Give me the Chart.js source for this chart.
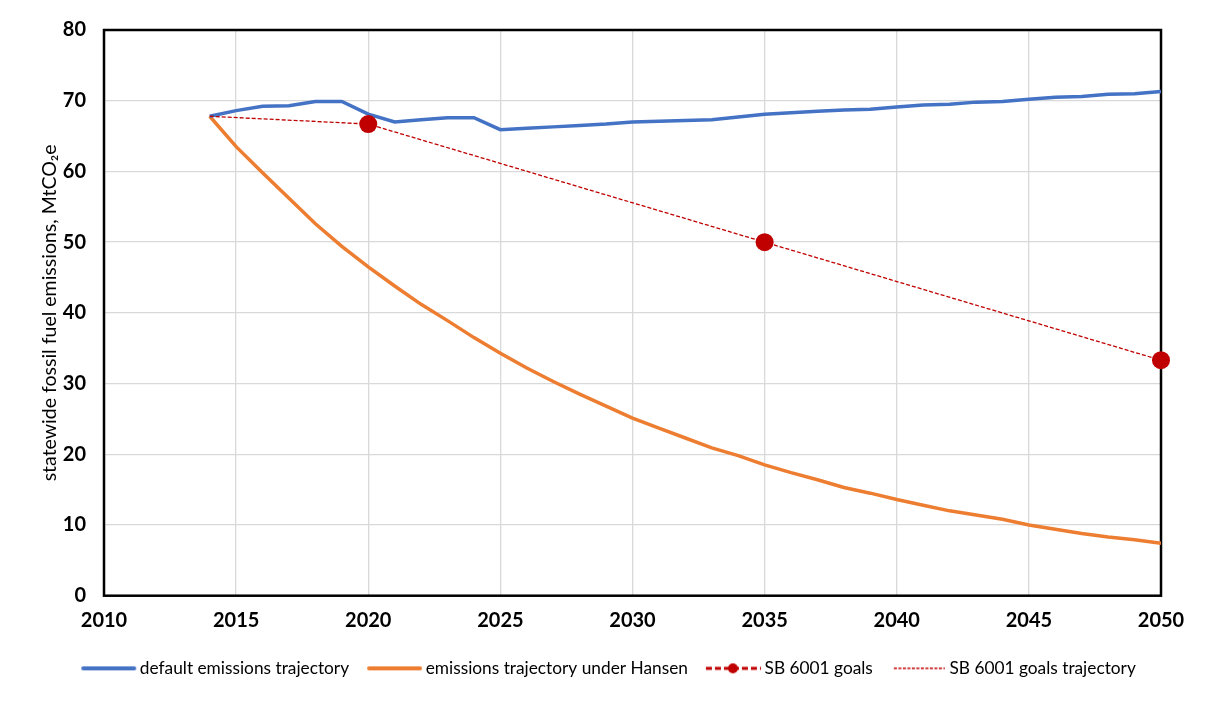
<!DOCTYPE html>
<html><head><meta charset="utf-8">
<script src="https://cdn.jsdelivr.net/npm/chart.js@4/dist/chart.umd.min.js"></script>
<style>html,body{margin:0;padding:0;background:#fff}</style>
</head><body>
<canvas id="c" width="1207" height="702" style="display:block;width:1207px;height:702px"></canvas>
<script>
const years = [2014,2015,2016,2017,2018,2019,2020,2021,2022,2023,2024,2025,2026,2027,2028,2029,2030,2031,2032,2033,2034,2035,2036,2037,2038,2039,2040,2041,2042,2043,2044,2045,2046,2047,2048,2049,2050];
const defaultEmissions = [67.8,68.6,69.2,69.3,69.9,69.9,68.1,67.0,67.3,67.6,67.6,65.9,66.1,66.3,66.5,66.7,67.0,67.1,67.2,67.3,67.7,68.1,68.3,68.5,68.7,68.8,69.1,69.4,69.5,69.8,69.9,70.2,70.5,70.6,70.9,71.0,71.3];
const hansenEmissions = [67.8,63.5,59.8,56.2,52.6,49.4,46.5,43.8,41.2,38.9,36.5,34.3,32.2,30.3,28.5,26.8,25.1,23.7,22.3,20.9,19.8,18.5,17.4,16.4,15.3,14.5,13.6,12.8,12.0,11.4,10.8,10.0,9.4,8.8,8.3,7.9,7.4];
const goalYears = [2020,2035,2050];
const goalValues = [66.7,50.0,33.3];
const trajectoryYears = [2014,2020,2035,2050];
const trajectoryValues = [67.8,66.7,50.0,33.3];
const xTicks = [2010,2015,2020,2025,2030,2035,2040,2045,2050];
const seriesNames = ['default emissions trajectory','emissions trajectory under Hansen','SB 6001 goals','SB 6001 goals trajectory'];

const BLUE = '#4472C4', ORANGE = '#ED7D31', RED = '#C00000';
const FONT = 'Lato, "Open Sans", sans-serif';

function pts(xs, ys){ return xs.map((x,i)=>({x:x, y:ys[i]})); }

// legend swatches: canvas 64 wide centred on a 50px box (spans box-7 .. box+57)
function legendIcon(kind){
  const cv = document.createElement('canvas');
  cv.width = 64; cv.height = 14;
  const g = cv.getContext('2d');
  if (kind === 0 || kind === 1) {
    g.strokeStyle = kind === 0 ? BLUE : ORANGE;
    g.lineWidth = 4; g.lineCap = 'round';
    g.beginPath(); g.moveTo(9,7); g.lineTo(60,7); g.stroke();
  } else if (kind === 2) {
    g.strokeStyle = RED; g.lineWidth = 3; g.setLineDash([6,3]);
    g.beginPath(); g.moveTo(7,7); g.lineTo(62,7); g.stroke();
    g.setLineDash([]); g.fillStyle = RED;
    g.beginPath(); g.arc(34,7,5,0,Math.PI*2); g.fill();
  } else {
    g.strokeStyle = RED; g.lineWidth = 1.3; g.setLineDash([3,1.5]);
    g.beginPath(); g.moveTo(10,7); g.lineTo(61,7); g.stroke();
  }
  return cv;
}
const icons = [0,1,2,3].map(legendIcon);

const frame = {
  id: 'frame',
  afterLayout(chart){
    const l = chart.legend;
    if (l) { l.left += 28; l.right += 28; }
  },
  beforeDatasetsDraw(chart){
    const a = chart.chartArea, c = chart.ctx;
    c.save(); c.strokeStyle = '#000'; c.lineWidth = 2.5;
    c.strokeRect(a.left, a.top, a.right - a.left, a.bottom - a.top);
    c.restore();
  }
};

new Chart(document.getElementById('c'), {
  type: 'line',
  data: {
    datasets: [
      { label: seriesNames[0], data: pts(years, defaultEmissions), borderColor: BLUE, borderWidth: 3.5, pointRadius: 0, tension: 0, order: 3 },
      { label: seriesNames[1], data: pts(years, hansenEmissions), borderColor: ORANGE, borderWidth: 3.5, pointRadius: 0, tension: 0, order: 4 },
      { label: seriesNames[2], data: pts(goalYears, goalValues), showLine: false, borderColor: RED, backgroundColor: RED, pointRadius: 9, pointHoverRadius: 9, pointBorderWidth: 0, order: 0, clip: false },
      { label: seriesNames[3], data: pts(trajectoryYears, trajectoryValues), borderColor: RED, borderWidth: 1.3, borderDash: [4,2], pointRadius: 0, tension: 0, order: 1 }
    ]
  },
  options: {
    responsive: false,
    animation: false,
    devicePixelRatio: 1,
    layout: { padding: { top: 28, right: 46, left: 0, bottom: 15 } },
    plugins: {
      tooltip: { enabled: false },
      legend: {
        position: 'bottom',
        labels: {
          usePointStyle: true,
          pointStyleWidth: 50,
          boxHeight: 14,
          padding: 18,
          color: '#000',
          font: { family: FONT, size: 17.3 },
          generateLabels(chart){
            return chart.data.datasets.map((d,i)=>({
              text: d.label, pointStyle: icons[i], datasetIndex: i,
              fillStyle: 'transparent', strokeStyle: 'transparent', lineWidth: 0, hidden: false
            }));
          }
        }
      }
    },
    scales: {
      x: {
        type: 'linear', min: 2010, max: 2050,
        afterBuildTicks(s){ s.ticks = xTicks.map(v=>({value:v})); },
        grid: { color: '#d9d9d9', lineWidth: 1.3, drawTicks: false },
        border: { display: false },
        ticks: { padding: 13, color: '#000', font: { family: FONT, size: 20, weight: 'bold' }, callback: v => String(v) },
        afterFit(s){ s.height = 46; }
      },
      y: {
        min: 0, max: 80,
        ticks: { stepSize: 10, padding: 18, color: '#000', font: { family: FONT, size: 20, weight: 'bold' } },
        grid: { color: '#d9d9d9', lineWidth: 1.3, drawTicks: false },
        border: { display: false },
        title: { display: true, text: 'statewide fossil fuel emissions, MtCO₂e', color: '#000', font: { family: FONT, size: 19.5 }, padding: { top: 38, bottom: 0 } },
        afterFit(s){ s.width = 104; }
      }
    }
  },
  plugins: [frame]
});
</script>
</body></html>
